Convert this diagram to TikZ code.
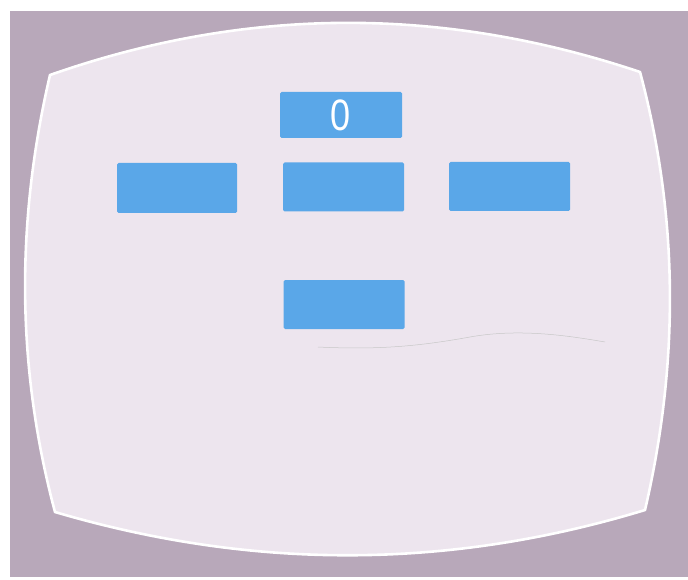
\documentclass[tikz,border=0pt]{standalone}
\usepackage{fontspec}
\newfontfamily\digitfont[FakeStretch=0.82]{Liberation Sans}
\definecolor{frame}{RGB}{184,168,186}
\definecolor{screen}{RGB}{237,229,238}
\definecolor{blk}{RGB}{90,167,232}
\begin{document}
\begin{tikzpicture}[x=1pt, y=-1pt,
    blk/.style={fill=blk, draw=none, rounded corners=1.5pt, inner sep=0pt, minimum width=121pt, minimum height=49pt},
    digit/.style={text=white, font=\digitfont\fontsize{44}{44}\selectfont, inner sep=0pt}
]
\useasboundingbox (0,0) rectangle (688,580);
\fill[frame] (10,11) rectangle (688,577);
\filldraw[fill=screen, draw=white, line width=2.6pt, line join=round]
  (50,75) .. controls (247,6) and (443,6) .. (640,72)
  .. controls (679,218) and (679,364) .. (645,510)
  .. controls (448,570) and (252,570) .. (55,512)
  .. controls (16,366) and (16,221) .. cycle;
\draw[black!22, line width=0.5pt] (318,347) .. controls (380,350) and (420,346) .. (470,337)
  .. controls (520,328) and (570,336) .. (605,342);

\node[blk, minimum width=122pt, minimum height=46pt] (score) at (341,115) {};
\node[digit] (zero) at (score.center) {0};
\node[blk, minimum width=120pt, minimum height=50pt] (left) at (177,188) {};
\node[blk] (mid) at (343.5,187) {};
\node[blk] (right) at (509.5,186.5) {};
\node[blk] (low) at (344,304.5) {};
\end{tikzpicture}
\end{document}
